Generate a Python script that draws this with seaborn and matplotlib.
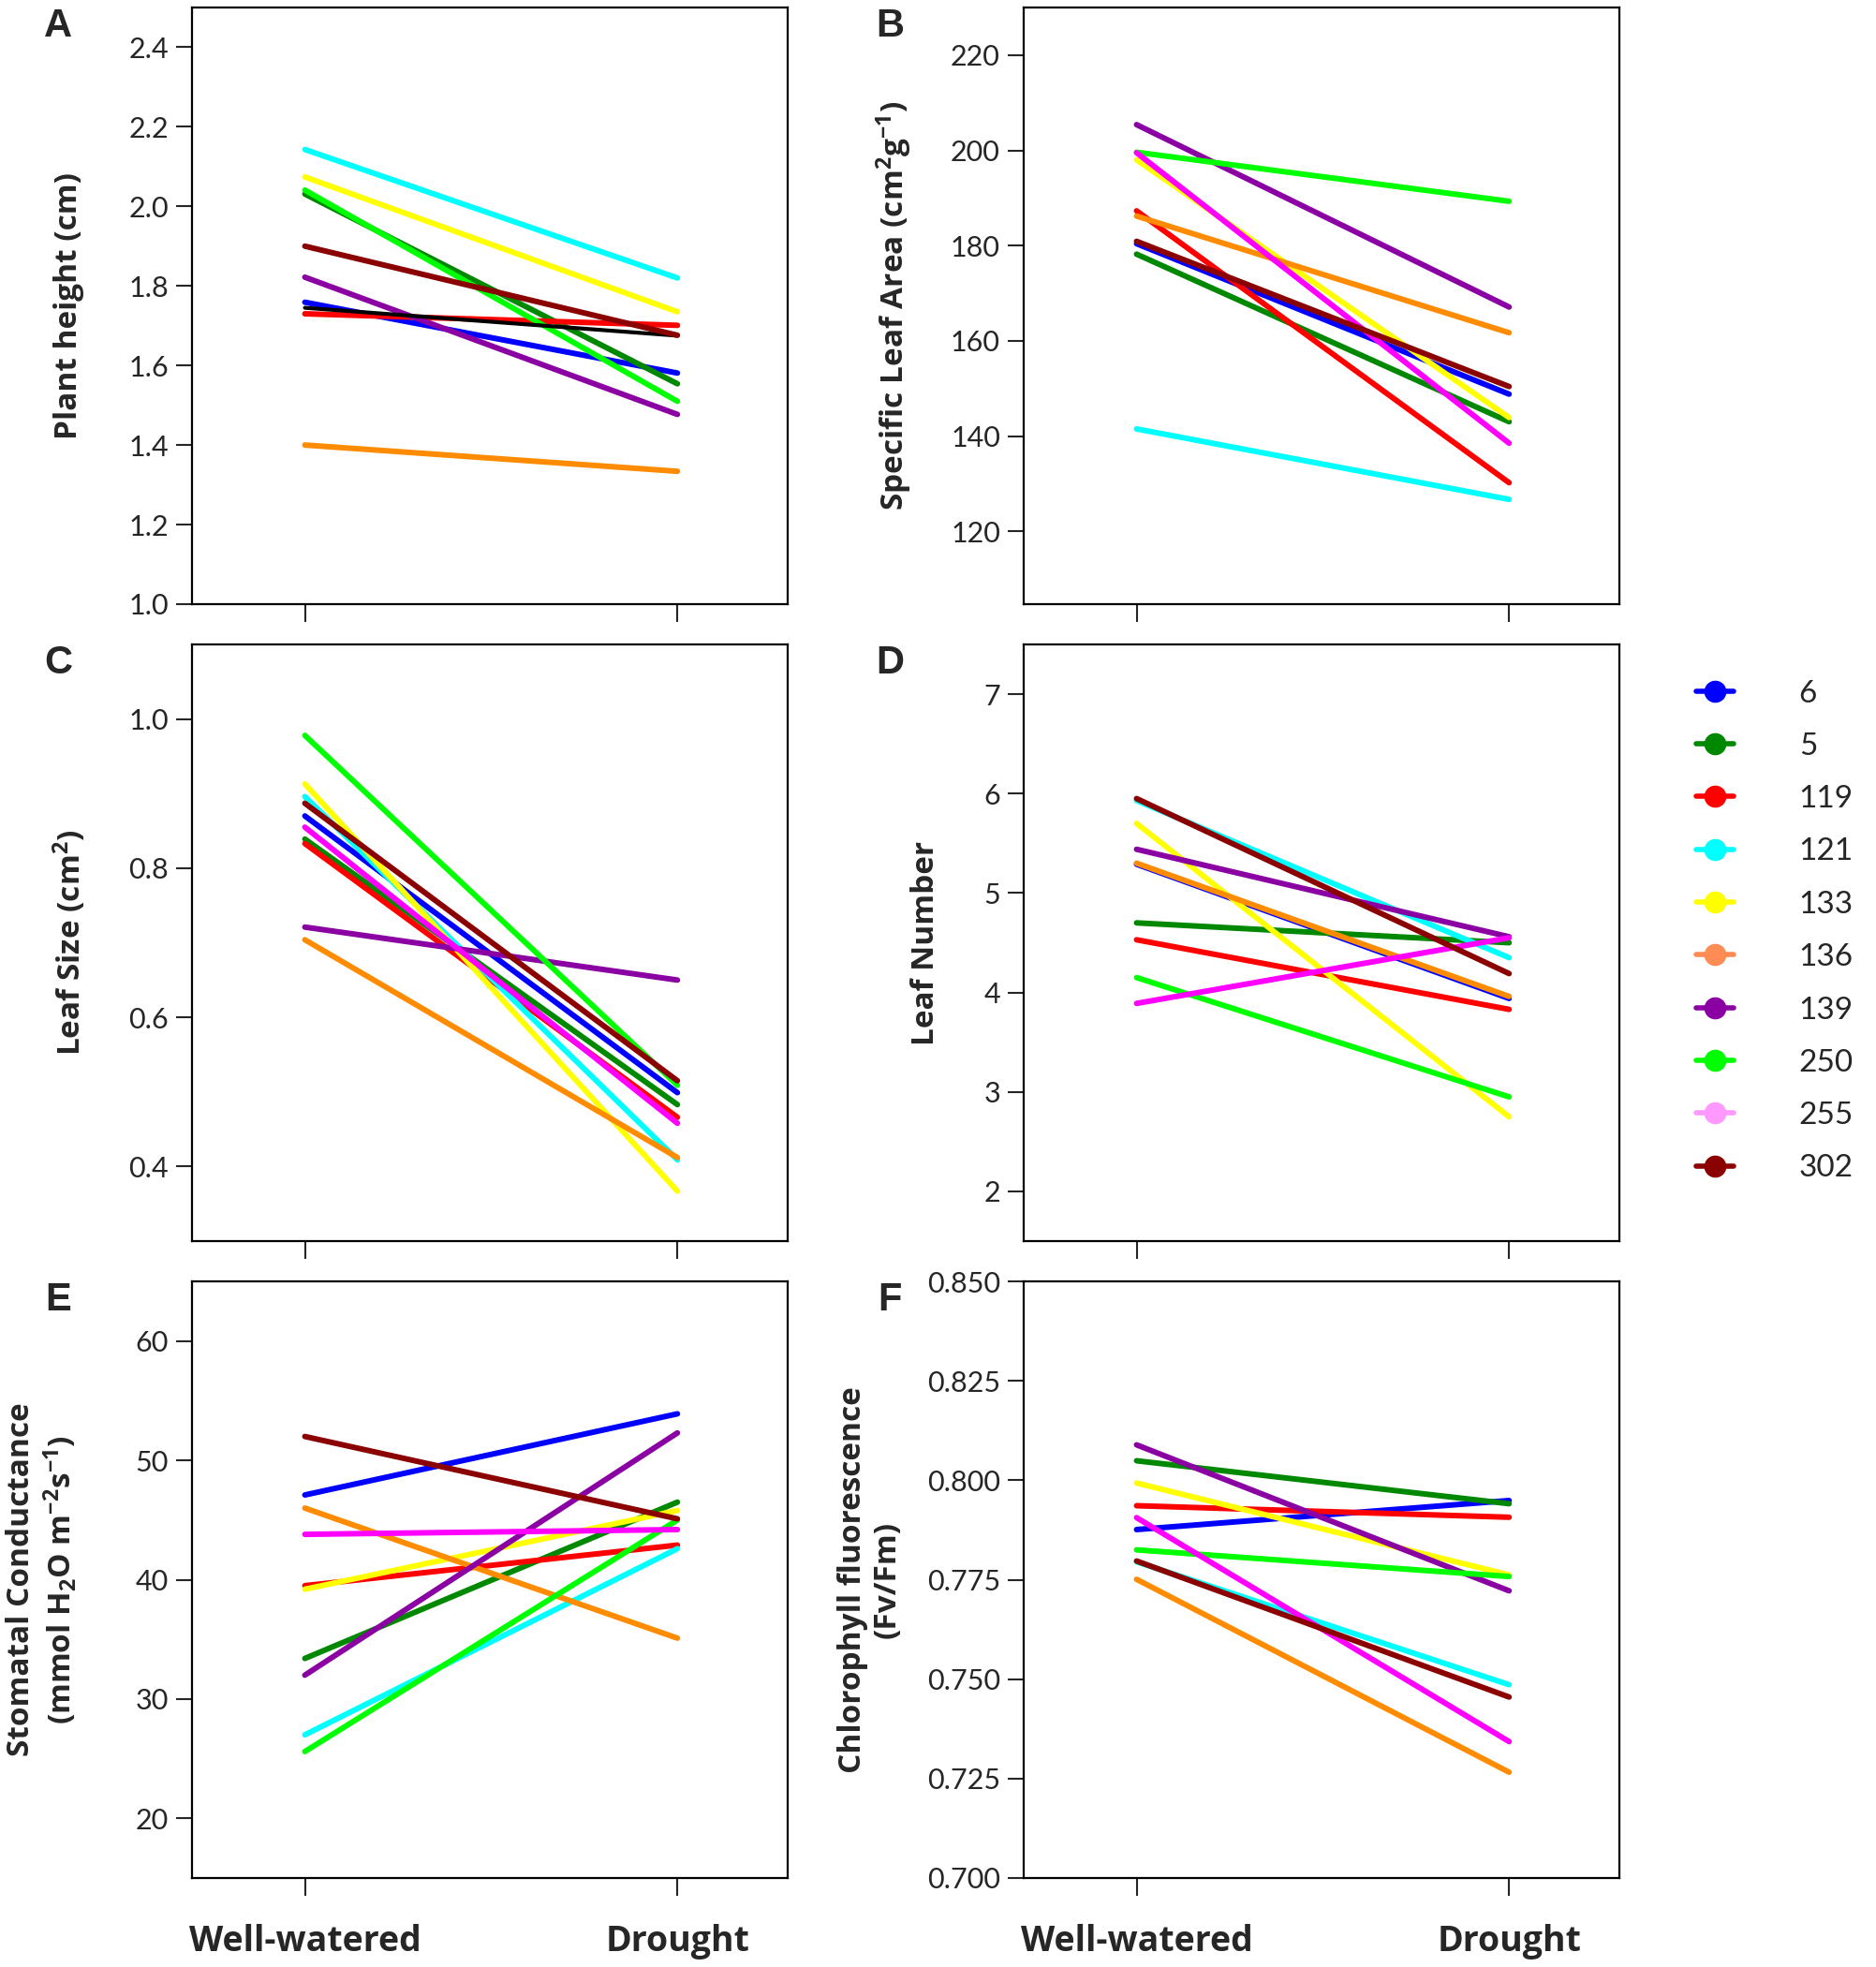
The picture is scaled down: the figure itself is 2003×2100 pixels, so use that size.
import numpy as np
import pandas as pd
import matplotlib
matplotlib.use("Agg")
import matplotlib.pyplot as plt
from matplotlib.lines import Line2D
from matplotlib.ticker import FormatStrFormatter
import seaborn as sns

sns.set_style("white")
plt.rcParams['font.family'] = ['Lato', 'DejaVu Sans']
plt.rcParams['mathtext.fontset'] = 'custom'
plt.rcParams['mathtext.rm'] = 'Open Sans:bold'
plt.rcParams['mathtext.it'] = 'Open Sans:bold'
plt.rcParams['mathtext.bf'] = 'Open Sans:bold'

lines = ['6', '5', '119', '121', '133', '136', '139', '250', '255', '302']
conditions = ['Well-watered', 'Drought']

line_colors = ['#0000FF', '#008800', '#FF0000', '#00FFFF', '#FFFF00',
               '#FF8C00', '#8B00A3', '#00FF00', '#FF00FF', '#8B0000']
legend_colors = ['#0000FF', '#008800', '#FF0000', '#00FFFF', '#FFFF00',
                 '#FF8C55', '#8B00A3', '#00FF00', '#FF99FF', '#8B0000']

# values per line: (well-watered, drought)
height_ww = [1.759, 2.031, 1.730, 2.143, 2.074, 1.400, 1.822, 2.041, 1.745, 1.900]
height_dr = [1.581, 1.554, 1.701, 1.820, 1.735, 1.334, 1.477, 1.510, 1.675, 1.676]

sla_ww = [180.4, 178.2, 187.3, 141.5, 198.0, 186.2, 205.4, 199.6, 199.5, 180.9]
sla_dr = [148.8, 143.0, 130.2, 126.7, 143.9, 161.7, 167.1, 189.3, 138.5, 150.4]

size_ww = [0.870, 0.839, 0.833, 0.896, 0.913, 0.704, 0.721, 0.978, 0.855, 0.887]
size_dr = [0.499, 0.483, 0.466, 0.409, 0.367, 0.412, 0.650, 0.509, 0.458, 0.515]

number_ww = [5.29, 4.70, 4.53, 5.93, 5.70, 5.30, 5.44, 4.15, 3.89, 5.95]
number_dr = [3.94, 4.50, 3.83, 4.35, 2.75, 3.96, 4.56, 2.95, 4.55, 4.19]

gs_ww = [47.1, 33.4, 39.5, 27.0, 39.2, 46.0, 32.0, 25.6, 43.8, 52.0]
gs_dr = [53.9, 46.5, 42.9, 42.6, 45.8, 35.1, 52.3, 45.0, 44.2, 45.1]

fvfm_ww = [0.7876, 0.8049, 0.7936, 0.7795, 0.7993, 0.7751, 0.8089, 0.7825, 0.7906, 0.7797]
fvfm_dr = [0.7949, 0.7941, 0.7907, 0.7486, 0.7762, 0.7266, 0.7722, 0.7758, 0.7343, 0.7455]

panels = [
    ('A', height_ww, height_dr, 'Plant height (cm)', (1.0, 2.5), np.arange(1.0, 2.41, 0.2), '%.1f', -0.206),
    ('B', sla_ww, sla_dr, 'Specific Leaf Area (cm$^{2}$g$^{-1}$)', (104.7, 230), np.arange(120, 221, 20), '%d', -0.217),
    ('C', size_ww, size_dr, 'Leaf Size (cm$^{2}$)', (0.3, 1.1), np.arange(0.4, 1.01, 0.2), '%.1f', -0.206),
    ('D', number_ww, number_dr, 'Leaf Number', (1.5, 7.5), np.arange(2, 8, 1), '%d', -0.165),
    ('E', gs_ww, gs_dr, 'Stomatal Conductance\n(mmol H$_{2}$O m$^{-2}$s$^{-1}$)', (15, 65), np.arange(20, 61, 10), '%d', -0.252),
    ('F', fvfm_ww, fvfm_dr, 'Chlorophyll fluorescence\n(Fv/Fm)', (0.7, 0.85), np.arange(0.7, 0.851, 0.025), '%.3f', -0.258),
]

W, H = 2003, 2100
fig = plt.figure(figsize=(W / 100, H / 100), dpi=100)

col_left = [205, 1093]
row_top = [8, 688, 1368]
ax_w, ax_h = 636, 637

for i, (letter, ww, dr, ylabel, ylim, yticks, fmt, labx) in enumerate(panels):
    r, c = divmod(i, 2)
    x0, y0 = col_left[c], row_top[r]
    ax = fig.add_axes([x0 / W, 1 - (y0 + ax_h) / H, ax_w / W, ax_h / H])

    df = pd.DataFrame({
        'line': lines * 2,
        'condition': [conditions[0]] * len(lines) + [conditions[1]] * len(lines),
        'value': list(ww) + list(dr),
    })
    pal = dict(zip(lines, line_colors))
    if letter == 'A':
        pal['255'] = '#000000'
    sns.lineplot(data=df, x='condition', y='value', hue='line', hue_order=lines,
                 palette=pal, linewidth=4.3, legend=False, ax=ax, sort=False)
    for ln in ax.lines:
        ln.set_solid_capstyle('round')
    if letter == 'A':
        ax.lines[lines.index('255')].set_linewidth(3.0)

    ax.set_xlim(-0.303, 1.296)
    ax.set_ylim(*ylim)
    ax.set_yticks(yticks)
    ax.yaxis.set_major_formatter(FormatStrFormatter(fmt))
    ax.set_xticks([0, 1])
    if r == 2:
        ax.set_xticklabels(conditions, fontsize=27, fontweight='bold', family='Open Sans')
    else:
        ax.set_xticklabels([])
    ax.set_xlabel('')
    ax.set_ylabel(ylabel, fontsize=24, fontweight='bold', family='Open Sans', linespacing=1.15)
    ax.yaxis.label.set_va('center')
    ax.yaxis.set_label_coords(labx, 0.5)
    ax.tick_params(axis='y', direction='out', length=12, width=1.5, labelsize=22, pad=6, left=True)
    ax.tick_params(axis='x', direction='out', length=14, width=1.5, pad=21, bottom=True)
    for sp in ax.spines.values():
        sp.set_visible(True)
        sp.set_linewidth(1.6)
        sp.set_color('black')

    fig.text((x0 - 143) / W, 1 - (y0 + 20) / H, letter, fontsize=30, fontweight='bold',
             family='Liberation Sans', ha='center', va='center')

handles = [Line2D([0], [0], color=col, lw=4, marker='o', markersize=16,
                  solid_capstyle='round') for col in legend_colors]
fig.legend(handles, lines, loc='center left', bbox_to_anchor=(1794 / W, 1 - 994 / H),
           frameon=False, fontsize=24, handlelength=1.2, labelspacing=0.79,
           handletextpad=2.1, borderpad=0)

fig.savefig('out.png', dpi=100)
